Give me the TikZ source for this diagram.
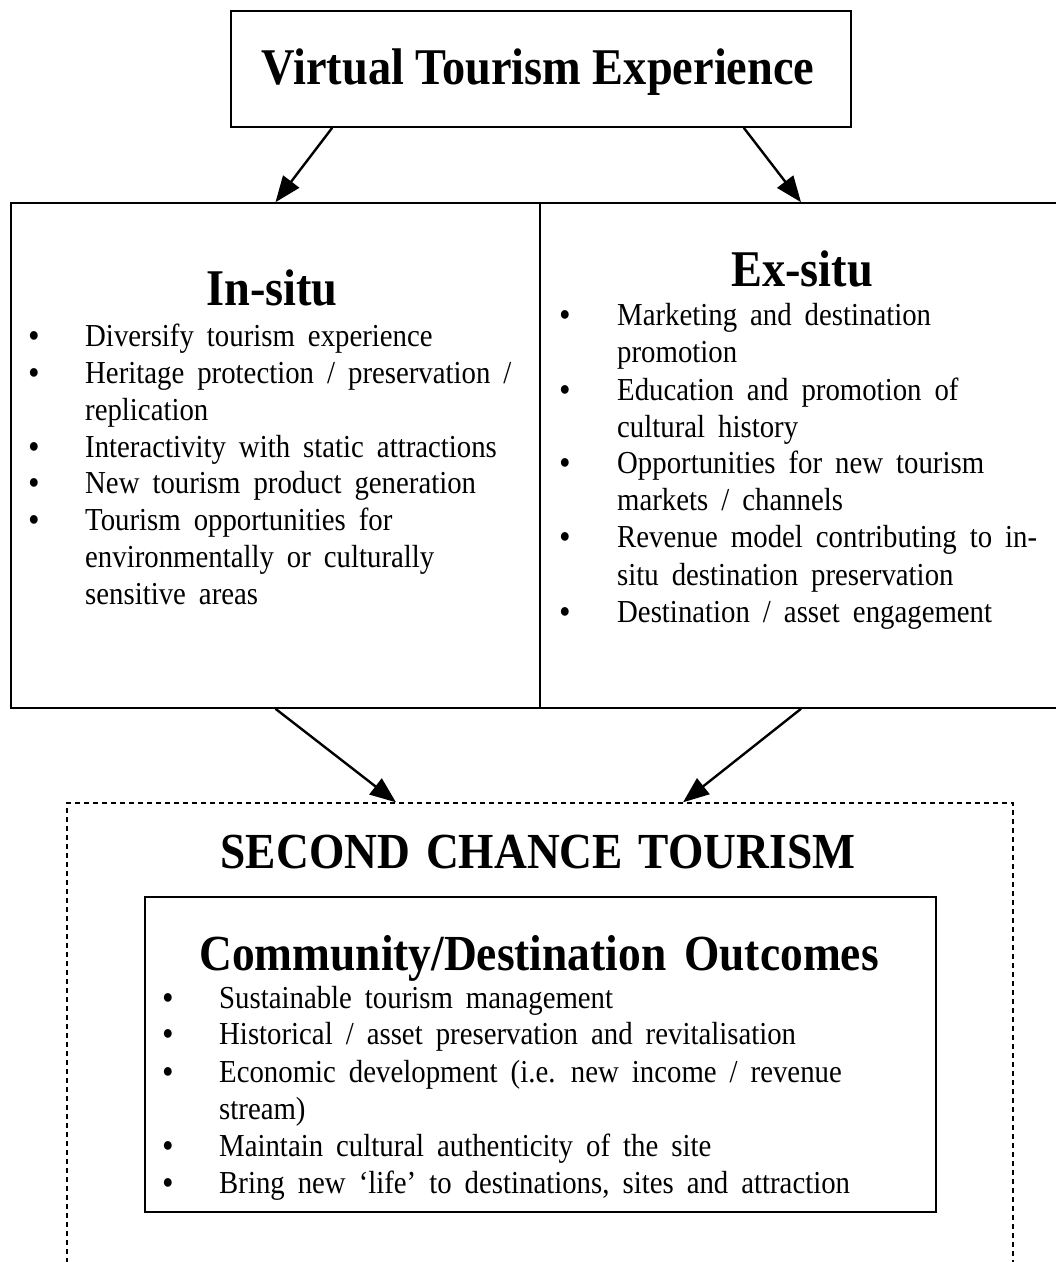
\documentclass[tikz,border=0pt]{standalone}
\usepackage{fontspec}
\setmainfont{Liberation Serif}[FakeStretch=0.9]
\usetikzlibrary{arrows.meta,calc}
\newcommand{\bodyfnt}{\fontsize{32}{37}\selectfont\spaceskip=13pt plus 1pt minus 1pt\relax}
\newcommand{\headfnt}{\fontsize{51.5}{56}\selectfont\bfseries}
\newcommand{\scfnt}{\fontsize{50.5}{56}\selectfont\bfseries\spaceskip=16pt\relax}
\newcommand{\cdfnt}{\fontsize{50.5}{56}\selectfont\bfseries\spaceskip=18pt\relax}
\begin{document}
\begin{tikzpicture}[x=1pt,y=-1pt,
  box/.style={draw,line width=1.6pt,inner sep=0pt,anchor=center},
  arr/.style={line width=2.4pt,-{Triangle[length=26pt,width=20pt]}},
  ln/.style={anchor=base west,inner sep=0pt,font=\bodyfnt},
  bul/.style={anchor=base,inner sep=0pt,font=\bodyfnt\bfseries},
  hd/.style={anchor=base,inner sep=0pt,font=\headfnt}]
\clip (0,0) rectangle (1056,1262);
\fill[white] (0,0) rectangle (1056,1262);
% boxes
\node[box,minimum width=620pt,minimum height=116pt] (top) at (541,69) {};
\node[box,minimum width=529pt,minimum height=505pt] (left) at (275.5,455.5) {};
\node[box,minimum width=522pt,minimum height=505pt] (right) at (801,455.5) {};
\node[draw,dashed,dash pattern=on 5pt off 4pt,line width=1.4pt,inner sep=0pt,minimum width=946pt,minimum height=470pt] (scb) at (540,1038) {};
\node[box,minimum width=791pt,minimum height=315pt] (inner) at (540.5,1054.5) {};
% titles
\node[hd] (ttop) at (538,84) {Virtual Tourism Experience};
\node[hd] (tin) at (272,305) {In-situ};
\node[hd] (tex) at (802,286) {Ex-situ};
\node[hd,font=\scfnt] (tsc) at (538,868) {SECOND CHANCE TOURISM};
\node[hd,font=\cdfnt] (tcd) at (539,970) {Community/Destination Outcomes};
% left list
\foreach \y/\n in {346/a,383/b,457/c,493/d,530/e}{\node[bul] (lb\n) at (34,\y) {•};}
\node[ln] (l1) at (85,346) {Diversify tourism experience};
\node[ln] (l2) at (85,383) {Heritage protection / preservation /};
\node[ln] (l3) at (85,420) {replication};
\node[ln] (l4) at (85,457) {Interactivity with static attractions};
\node[ln] (l5) at (85,493) {New tourism product generation};
\node[ln] (l6) at (85,530) {Tourism opportunities for};
\node[ln] (l7) at (85,567) {environmentally or culturally};
\node[ln] (l8) at (85,604) {sensitive areas};
% right list
\foreach \y/\n in {325/a,400/b,473/c,547/d,622/e}{\node[bul] (rb\n) at (565,\y) {•};}
\node[ln] (r1) at (617,325) {Marketing and destination};
\node[ln] (r2) at (617,362) {promotion};
\node[ln] (r3) at (617,400) {Education and promotion of};
\node[ln] (r4) at (617,437) {cultural history};
\node[ln] (r5) at (617,473) {Opportunities for new tourism};
\node[ln] (r6) at (617,510) {markets / channels};
\node[ln] (r7) at (617,547) {Revenue model contributing to in-};
\node[ln] (r8) at (617,585) {situ destination preservation};
\node[ln] (r9) at (617,622) {Destination / asset engagement};
% bottom list
\foreach \y/\n in {1008/a,1044/b,1082/c,1156/d,1193/e}{\node[bul] (bb\n) at (168,\y) {•};}
\node[ln] (b1) at (219,1008) {Sustainable tourism management};
\node[ln] (b2) at (219,1044) {Historical / asset preservation and revitalisation};
\node[ln] (b3) at (219,1082) {Economic development (i.e. new income / revenue};
\node[ln] (b4) at (219,1119) {stream)};
\node[ln] (b5) at (219,1156) {Maintain cultural authenticity of the site};
\node[ln] (b6) at (219,1193) {Bring new ‘life’ to destinations, sites and attraction};
% arrows
\draw[arr] ($(top.south west)+(102,0)$) -- (left.north);
\draw[arr] ($(top.south east)+(-108,0)$) -- (right.north);
\draw[arr] (left.south) -- ($(scb.north)+(-144,0)$);
\draw[arr] (right.south) -- ($(scb.north)+(143,0)$);
\end{tikzpicture}
\end{document}
